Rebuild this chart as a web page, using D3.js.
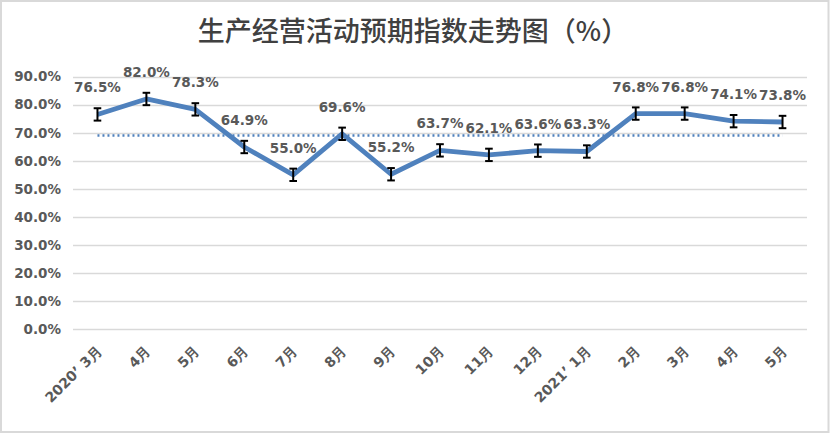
<!DOCTYPE html>
<html><head><meta charset="utf-8">
<script src="https://cdn.jsdelivr.net/npm/d3@7/dist/d3.min.js"></script>
<style>body{margin:0;background:#fff}svg{display:block}</style>
</head><body>
<svg id="c" width="830" height="434"></svg>
<script>
const title = "生产经营活动预期指数走势图（%）";
const categories = ["2020’ 3月","4月","5月","6月","7月","8月","9月","10月","11月","12月","2021’ 1月","2月","3月","4月","5月"];
const values = [76.5, 82.0, 78.3, 64.9, 55.0, 69.6, 55.2, 63.7, 62.1, 63.6, 63.3, 76.8, 76.8, 74.1, 73.8];
const averageLine = [69.0, 69.0, 69.0, 69.0, 69.0, 69.0, 69.0, 69.0, 69.0, 69.0, 69.0, 69.0, 69.0, 69.0, 69.0];
const errorAmount = 2.2;
const yTicks = [0, 10, 20, 30, 40, 50, 60, 70, 80, 90];

const svg = d3.select("#c");
const W = 830, H = 434;
const font = "'DejaVu Sans', Verdana, sans-serif";
const txt = "#595959";

svg.append("rect").attr("x",1).attr("y",1).attr("width",W-2.5).attr("height",H-3)
  .attr("fill","#fff").attr("stroke","#d9d9d9").attr("stroke-width",2);

svg.append("text").attr("x",413).attr("y",41).attr("text-anchor","middle")
  .attr("font-family","'Noto Sans CJK SC', sans-serif").attr("font-size",27).attr("font-weight",500)
  .attr("fill","#404040").text(title);

const idx = categories.map((c,i)=>i);
const x = d3.scaleBand().domain(idx).range([73, 807]).paddingInner(0).paddingOuter(0);
const y = d3.scaleLinear().domain([0, 90]).range([329.3, 76.5]);
const cx = i => x(i) + x.bandwidth()/2;

// grid
svg.append("g").selectAll("line").data(yTicks).join("line")
  .attr("x1",73).attr("x2",807).attr("y1",d=>Math.round(y(d))+0.5).attr("y2",d=>Math.round(y(d))+0.5)
  .attr("stroke","#d9d9d9").attr("stroke-width",1.5);

// y axis
const yAxis = d3.axisLeft(y).tickValues(yTicks).tickFormat(d=>d3.format(".1f")(d)+"%").tickSize(0).tickPadding(12);
const ga = svg.append("g").attr("transform","translate(73,0)").call(yAxis);
ga.select(".domain").remove();
ga.selectAll("text").attr("font-family",font).attr("font-size",13.5).attr("font-weight","bold").attr("fill",txt);

// x axis labels
const xAxis = d3.axisBottom(x).tickSize(0).tickPadding(0).tickFormat(i=>categories[i]);
const gx = svg.append("g").attr("transform","translate(0,329)").call(xAxis);
gx.select(".domain").remove();
gx.selectAll(".tick text").attr("font-family",font).attr("font-size",14).attr("font-weight","bold").attr("fill",txt)
  .attr("text-anchor","end").attr("dy",0)
  .attr("transform","translate(5,23) rotate(-45)");

// average dotted line
svg.append("path").datum(averageLine)
  .attr("d", d3.line().x((d,i)=>cx(i)).y(d=>y(d)))
  .attr("fill","none").attr("stroke","#4f81bd").attr("stroke-width",2.4).attr("stroke-dasharray","2 3");

// main line
svg.append("path").datum(values)
  .attr("d", d3.line().x((d,i)=>cx(i)).y(d=>y(d)))
  .attr("fill","none").attr("stroke","#4f81bd").attr("stroke-width",4.8).attr("stroke-linejoin","round");

// error bars
const eb = svg.append("g").attr("stroke","#000").attr("stroke-width",2);
values.forEach((v,i)=>{
  const px = cx(i);
  const t = y(v+errorAmount), b = y(v-errorAmount);
  eb.append("line").attr("x1",px).attr("x2",px).attr("y1",t).attr("y2",b);
  eb.append("line").attr("x1",px-3.8).attr("x2",px+3.8).attr("y1",t).attr("y2",t);
  eb.append("line").attr("x1",px-3.8).attr("x2",px+3.8).attr("y1",b).attr("y2",b);
});

// data labels
svg.append("g").selectAll("text").data(values).join("text")
  .attr("x",(d,i)=>cx(i)).attr("y",d=>y(d)-22)
  .attr("text-anchor","middle").attr("font-family",font).attr("font-size",13.5).attr("font-weight","bold")
  .attr("fill",txt).text(d=>d3.format(".1f")(d)+"%");
</script>
</body></html>
